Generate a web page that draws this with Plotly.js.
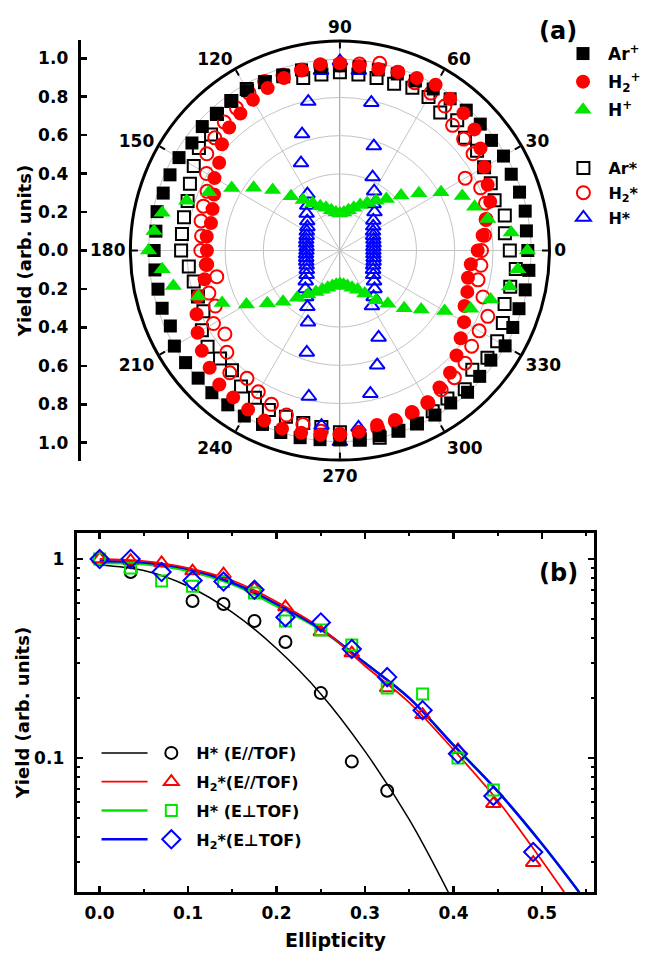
<!DOCTYPE html>
<html><head><meta charset="utf-8">
<script src="https://cdn.plot.ly/plotly-3.0.1.min.js"></script>
<style>html,body{margin:0;padding:0;background:#fff}</style>
</head><body><div id="chart" style="width:646px;height:954px"></div>
<script>
// ---------- (a) polar data: angle (deg) and yields ----------
const angles = [0,6,12,18,24,30,36,42,48,54,60,66,72,78,84,90,96,102,108,114,
  120,126,132,138,144,150,156,162,168,174,180,186,192,198,204,210,216,222,228,234,
  240,246,252,258,264,270,276,282,288,294,300,306,312,318,324,330,336,342,348,354];
const angleTicks = [0,30,60,90,120,150,180,210,240,270,300,330];
const angleTickText = ['0','30','60','90','120','150','180','210','240','270','300','330'];
const arPlus = [0.982,0.98,0.99,0.987,0.98,0.987,0.979,0.987,0.987,0.98,
  0.975,0.97,0.97,0.965,0.965,0.965,0.965,0.965,0.965,0.965,
  0.965,0.967,0.965,0.968,0.956,0.971,0.972,0.971,0.977,0.967,
  0.971,0.972,0.972,0.977,0.97,0.999,0.997,0.997,1.0,0.997,
  0.999,0.995,1.0,1.0,0.994,0.99,0.99,0.99,0.99,0.99,
  0.993,0.985,0.997,0.983,0.975,0.997,0.989,0.984,0.99,0.993];
const h2Plus = [0.72,0.75,0.78,0.826,0.845,0.872,0.908,0.946,0.965,0.98,
  1.0,0.987,0.98,0.97,0.969,0.979,0.979,0.964,0.948,0.929,
  0.909,0.885,0.865,0.83,0.78,0.757,0.72,0.70,0.689,0.70,
  0.695,0.705,0.723,0.78,0.82,0.859,0.892,0.916,0.942,0.949,
  0.96,0.973,0.979,0.974,0.968,0.964,0.953,0.932,0.931,0.924,
  0.916,0.885,0.86,0.82,0.78,0.749,0.713,0.70,0.684,0.688];
const hPlus = [0.98,0.90,0.79,0.74,0.70,0.61,0.51,0.43,0.363,0.322,
  0.286,0.26,0.235,0.215,0.2,0.193,0.2,0.215,0.235,0.253,
  0.285,0.327,0.382,0.473,0.557,0.653,0.75,0.842,0.95,0.977,
  1.0,0.934,0.89,0.778,0.674,0.564,0.469,0.40,0.333,0.284,
  0.25,0.225,0.205,0.19,0.18,0.175,0.18,0.19,0.205,0.225,
  0.26,0.322,0.374,0.452,0.525,0.632,0.748,0.828,0.906,0.935];
const arStar = [0.888,0.867,0.881,0.85,0.863,0.87,0.886,0.88,0.916,0.892,
  0.926,0.931,0.917,0.921,0.925,0.932,0.925,0.922,0.958,0.963,
  0.974,0.965,0.96,0.906,0.911,0.882,0.858,0.837,0.833,0.83,
  0.83,0.794,0.781,0.78,0.781,0.833,0.855,0.843,0.843,0.879,
  0.888,0.913,0.913,0.921,0.927,0.95,0.995,1.0,0.99,0.99,
  0.97,0.956,0.975,0.931,0.953,0.949,0.932,0.905,0.91,0.924];
const h2Star = [0.74,0.76,0.781,0.80,0.805,0.756,0.86,0.87,0.88,0.933,
  0.95,0.96,0.98,1.0,0.98,0.97,0.97,0.965,0.963,0.967,
  0.95,0.92,0.903,0.88,0.86,0.805,0.76,0.75,0.742,0.727,
  0.727,0.70,0.658,0.72,0.713,0.763,0.743,0.795,0.86,0.826,
  0.853,0.88,0.904,0.93,0.95,0.96,0.96,0.95,0.94,0.93,
  0.92,0.9,0.894,0.88,0.851,0.84,0.846,0.786,0.738,0.741];
const hStar = [0.175,0.176,0.18,0.184,0.19,0.2,0.215,0.235,0.27,0.3,
  0.358,0.42,0.574,0.79,0.945,0.99,0.945,0.796,0.64,0.5,
  0.34,0.29,0.26,0.23,0.21,0.2,0.19,0.185,0.18,0.175,
  0.175,0.178,0.18,0.185,0.19,0.2,0.215,0.24,0.27,0.3,
  0.34,0.41,0.56,0.78,0.92,1.0,0.93,0.765,0.63,0.497,
  0.335,0.3,0.27,0.24,0.215,0.2,0.19,0.185,0.18,0.176];
const radialTickVals = [-1,-0.8,-0.6,-0.4,-0.2,0,0.2,0.4,0.6,0.8,1];
const radialTickText = ['1.0','0.8','0.6','0.4','0.2','0.0','0.2','0.4','0.6','0.8','1.0'];

// ---------- (b) ellipticity dependence ----------
const ellH = [0,0.035,0.105,0.14,0.175,0.21,0.25,0.285,0.325];
const yHpar = [1.0,0.86,0.615,0.594,0.488,0.383,0.212,0.096,0.0685];
const ellAll = [0,0.035,0.07,0.105,0.14,0.175,0.21,0.25,0.285,0.325,0.365,0.405,0.445,0.49];
const yH2par = [1.0,0.98,0.955,0.87,0.84,0.71,0.574,0.43,0.337,0.225,0.165,0.11,0.059,0.0298];
const ellHperp = [0,0.035,0.07,0.105,0.14,0.175,0.21,0.25,0.285,0.325,0.365,0.405,0.445];
const yHperp = [1.0,0.90,0.775,0.73,0.77,0.675,0.488,0.44,0.37,0.225,0.21,0.10,0.069];
const yH2perp = [1.0,1.0,0.86,0.78,0.77,0.70,0.51,0.48,0.353,0.255,0.174,0.105,0.0645,0.0337];
const fitBlackX = [0,0.05,0.1,0.15,0.2,0.25,0.3,0.35,0.394];
const fitBlackY = [0.933,0.875,0.73,0.54,0.355,0.21,0.108,0.049,0.0212];
const fitRedX = [0,0.05,0.1,0.15,0.2,0.25,0.3,0.35,0.4,0.45,0.5,0.525];
const fitRedY = [1.0,0.975,0.9,0.78,0.61,0.45,0.29,0.19,0.11,0.061,0.0305,0.0212];
const fitPerpX = [0,0.05,0.1,0.15,0.2,0.25,0.3,0.35,0.4,0.45,0.5,0.542];
const fitGreenY = [0.955,0.94,0.87,0.745,0.58,0.44,0.30,0.2,0.116,0.068,0.037,0.0212];
const fitBlueY = [0.975,0.96,0.89,0.76,0.595,0.445,0.30,0.2,0.116,0.068,0.037,0.0212];
const xTickVals = [0,0.1,0.2,0.3,0.4,0.5];
const xTickText = ['0.0','0.1','0.2','0.3','0.4','0.5'];
const xMinorVals = [0.05,0.15,0.25,0.35,0.45,0.55];
const yTickVals = [0.1,1];
const yTickText = ['0.1','1'];
const yMinorVals = [0.03,0.04,0.05,0.06,0.07,0.08,0.09,0.2,0.3,0.4,0.5,0.6,0.7,0.8,0.9];

const FF = '"DejaVu Sans", "Liberation Sans", Arial, sans-serif';
const W = 646, H = 954;
const px = v => v / W, py = v => 1 - v / H;

const GREEN = '#00e600';
const polarDom = {x:[px(131), px(552)], y:[py(461), py(40)]};

function pTrace(r, name, sym, color, size, open, rank, leg) {
  return {type:'scatterpolar', subplot:'polar2', r:r, theta:angles, mode:'markers', name:name,
    legend:leg, legendgroup:name, legendrank:rank,
    marker: open ? {symbol:sym, size:size, color:color, line:{color:color, width:2}}
                 : {symbol:sym, size:size, color:color, line:{width:0}}};
}

const traces = [
  {type:'scatter', x:[], y:[], xaxis:'x3', yaxis:'y3', showlegend:false, hoverinfo:'skip'},
  pTrace(arStar, 'Ar*', 'square-open', 'black', 12, true, 4, 'legend2'),
  pTrace(h2Star, 'H<sub>2</sub>*', 'circle-open', 'red', 13, true, 5, 'legend2'),
  pTrace(hStar, 'H*', 'triangle-up-open', 'blue', 13, true, 6, 'legend2'),
  pTrace(arPlus, 'Ar<sup>+</sup>', 'square', 'black', 13, false, 1, 'legend'),
  pTrace(h2Plus, 'H<sub>2</sub><sup>+</sup>', 'circle', 'red', 14, false, 2, 'legend'),
  pTrace(hPlus, 'H<sup>+</sup>', 'triangle-up', GREEN, 15, false, 3, 'legend'),
  // (b) fitted curves (legend3 shows only their line samples)
  {type:'scatter', x:fitBlackX, y:fitBlackY, mode:'lines', line:{color:'black', width:1.5, shape:'spline'},
   name:'', legend:'legend3', legendgroup:'g1', legendrank:1},
  {type:'scatter', x:fitPerpX, y:fitGreenY, mode:'lines', line:{color:GREEN, width:2.5, shape:'spline'},
   name:'', legend:'legend3', legendgroup:'g3', legendrank:3},
  {type:'scatter', x:fitPerpX, y:fitBlueY, mode:'lines', line:{color:'blue', width:2.5, shape:'spline'},
   name:'', legend:'legend3', legendgroup:'g4', legendrank:4},
  {type:'scatter', x:fitRedX, y:fitRedY, mode:'lines', line:{color:'red', width:1.8, shape:'spline'},
   name:'', legend:'legend3', legendgroup:'g2', legendrank:2},
  // (b) data points
  {type:'scatter', x:ellH, y:yHpar, mode:'markers', name:'H* (E//TOF)', legend:'legend4', legendgroup:'m1', legendrank:1,
   marker:{symbol:'circle-open', size:12, color:'black', line:{color:'black', width:2}}},
  {type:'scatter', x:ellAll, y:yH2par, mode:'markers', name:'H<sub>2</sub>*(E//TOF)', legend:'legend4', legendgroup:'m2', legendrank:2,
   marker:{symbol:'triangle-up-open', size:13, color:'red', line:{color:'red', width:2}}},
  {type:'scatter', x:ellHperp, y:yHperp, mode:'markers', name:'H* (E\u22A5TOF)', legend:'legend4', legendgroup:'m3', legendrank:3,
   marker:{symbol:'square-open', size:11, color:GREEN, line:{color:GREEN, width:2}}},
  {type:'scatter', x:ellAll, y:yH2perp, mode:'markers', name:'H<sub>2</sub>*(E\u22A5TOF)', legend:'legend4', legendgroup:'m4', legendrank:4,
   marker:{symbol:'diamond-open', size:14, color:'blue', line:{color:'blue', width:2}}}
];

const legFont = {family:FF, size:17, color:'black', weight:'bold'};
const legBase = {bgcolor:'rgba(0,0,0,0)', borderwidth:0, xanchor:'left', yanchor:'top', tracegroupgap:3, itemwidth:40, font:legFont};

const layout = {
  width:W, height:H, margin:{l:0,r:0,t:0,b:0}, paper_bgcolor:'white', plot_bgcolor:'rgba(0,0,0,0)',
  font:{family:FF, size:17, color:'black', weight:'bold'},
  showlegend:true,
  polar:{
    domain:polarDom, bgcolor:'rgba(0,0,0,0)',
    radialaxis:{range:[0,1.095], tickvals:[0.1,0.3,0.5,0.7,0.9], showticklabels:false, ticks:'', showline:false,
      gridcolor:'#cfcfcf', griddash:'dot', gridwidth:1},
    angularaxis:{tickvals:angleTicks, showticklabels:false, ticks:'', showline:false, showgrid:false}
  },
  polar2:{
    domain:polarDom, bgcolor:'rgba(0,0,0,0)',
    radialaxis:{range:[0,1.095], tickvals:[0.2,0.4,0.6,0.8,1.0], showticklabels:false, ticks:'', showline:false,
      gridcolor:'#c4c4c4', gridwidth:1},
    angularaxis:{rotation:0, direction:'counterclockwise', tickvals:angleTicks, ticktext:angleTickText,
      ticks:'inside', ticklen:6, tickwidth:2, tickcolor:'black', showline:true, linecolor:'black', linewidth:3,
      gridcolor:'#c4c4c4', gridwidth:1, tickfont:{family:FF, size:17, color:'black', weight:'bold'}}
  },
  xaxis3:{domain:polarDom.x, anchor:'y3', range:[-1.095,1.095], showline:false, showticklabels:false, ticks:'',
    showgrid:false, zeroline:true, zerolinecolor:'#8a8a8a', zerolinewidth:1, fixedrange:true},
  yaxis3:{domain:polarDom.y, anchor:'free', position:px(79), side:'left', range:[-1.095,1.095],
    tickvals:radialTickVals, ticktext:radialTickText, ticks:'inside', ticklen:6, tickwidth:2.5, tickcolor:'black',
    showline:true, linecolor:'black', linewidth:3, showgrid:false, zeroline:true, zerolinecolor:'#8a8a8a', zerolinewidth:1,
    ticklabelstandoff:6, tickfont:{family:FF, size:17, weight:'bold'},
    title:{text:'Yield (arb. units)', font:{family:FF, size:18, weight:'bold'}, standoff:0}},
  xaxis:{domain:[px(77), px(597)], anchor:'y', range:[-0.026,0.559], tickvals:xTickVals, ticktext:xTickText,
    ticks:'inside', ticklen:6, tickwidth:2.5, tickcolor:'black', mirror:'allticks', showline:true, linecolor:'black', linewidth:3,
    showgrid:false, zeroline:false, ticklabelstandoff:4,
    minor:{tickvals:xMinorVals, ticks:'inside', ticklen:3, tickwidth:2, tickcolor:'black'},
    tickfont:{family:FF, size:17, weight:'bold'},
    title:{text:'Ellipticity', font:{family:FF, size:19, weight:'bold'}, standoff:12}},
  yaxis:{domain:[py(892), py(533)], anchor:'x', type:'log', range:[-1.673,0.1307], tickvals:yTickVals, ticktext:yTickText,
    ticks:'inside', ticklen:6, tickwidth:2.5, tickcolor:'black', mirror:'allticks', showline:true, linecolor:'black', linewidth:3,
    showgrid:false, zeroline:false, ticklabelstandoff:6,
    minor:{tickvals:yMinorVals, ticks:'inside', ticklen:3, tickwidth:2, tickcolor:'black'},
    tickfont:{family:FF, size:17, weight:'bold'},
    title:{text:'Yield (arb. units)', font:{family:FF, size:18, weight:'bold'}, standoff:0}},
  legend:Object.assign({}, legBase, {x:px(561), y:py(36)}),
  legend2:Object.assign({}, legBase, {x:px(561), y:py(151), tracegroupgap:1, font:Object.assign({}, legFont, {size:16})}),
  legend3:Object.assign({}, legBase, {x:px(97), y:py(736), itemwidth:46, tracegroupgap:5, font:Object.assign({}, legFont, {size:16})}),
  legend4:Object.assign({}, legBase, {x:px(147), y:py(736), tracegroupgap:5, font:Object.assign({}, legFont, {size:16})}),
  annotations:[
    {xref:'paper', yref:'paper', x:px(561), y:py(31), xanchor:'center', yanchor:'middle', text:'(a)', showarrow:false, font:{family:FF, size:24, weight:'bold'}},
    {xref:'paper', yref:'paper', x:px(561), y:py(573), xanchor:'center', yanchor:'middle', text:'(b)', showarrow:false, font:{family:FF, size:24, weight:'bold'}}
  ]
};

Plotly.newPlot('chart', traces, layout, {staticPlot:true, displayModeBar:false});
</script>
</body></html>
